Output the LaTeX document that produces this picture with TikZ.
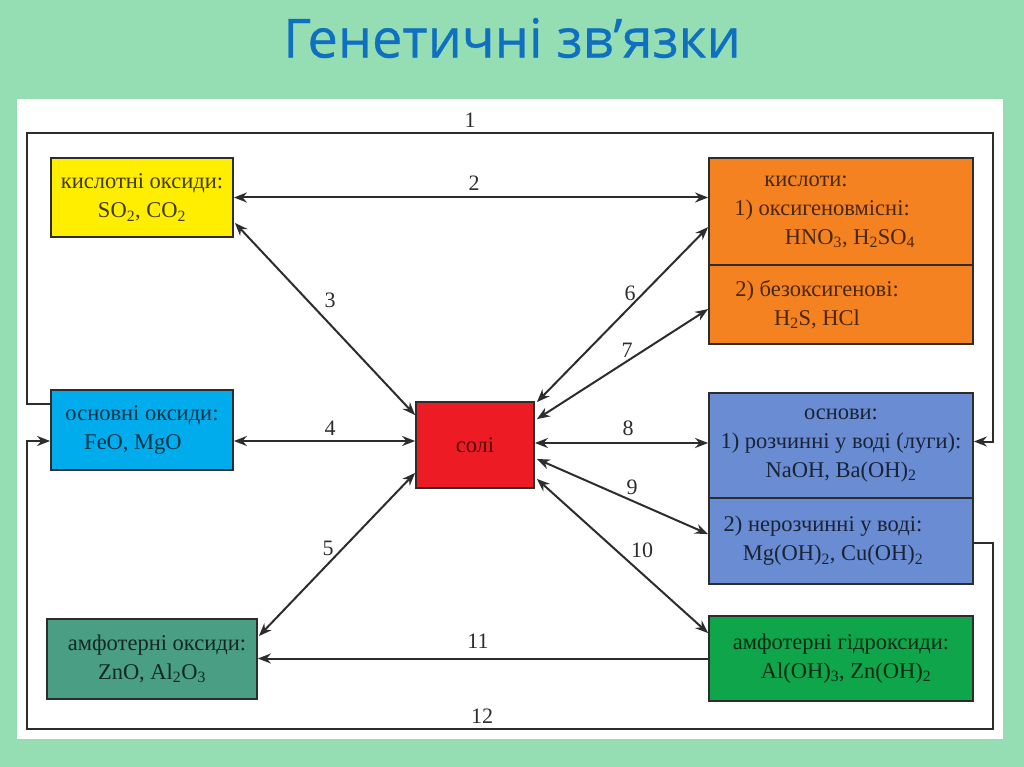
\documentclass[tikz,border=0pt]{standalone}
\usepackage{fontspec}
\setmainfont{Liberation Serif}
\newfontfamily\titlefont[FakeBold=0.6]{Open Sans}
\usetikzlibrary{arrows.meta,calc}
\definecolor{bgmint}{RGB}{149,222,180}
\definecolor{titleblue}{RGB}{16,112,192}
\definecolor{cyell}{RGB}{255,238,0}
\definecolor{corange}{RGB}{245,130,32}
\definecolor{ccyan}{RGB}{0,172,236}
\definecolor{cred}{RGB}{237,28,36}
\definecolor{cbases}{RGB}{105,140,210}
\definecolor{cteal}{RGB}{74,158,132}
\definecolor{cgreen}{RGB}{14,165,75}
\definecolor{linecol}{RGB}{45,45,45}
\begin{document}
\begin{tikzpicture}[x=1pt,y=-1pt,
  box/.style={draw=linecol, line width=1.8pt, inner sep=0pt, align=center,
    font=\fontsize{22.5}{29}\selectfont},
  conn/.style={draw=linecol, line width=2pt},
  tip/.style={conn,-{Stealth[length=13pt,width=10pt]}},
  both/.style={conn,{Stealth[length=13pt,width=10pt]}-{Stealth[length=13pt,width=10pt]}},
  num/.style={font=\fontsize{22}{24}\selectfont, text=linecol, inner sep=1pt}
]
\useasboundingbox (0,0) rectangle (1024,767);
\fill[bgmint] (0,0) rectangle (1024,767);
\fill[white] (17,99) rectangle (1003,739);

\node[font=\titlefont\fontsize{54}{58}\selectfont, text=titleblue] (title) at (512,38) {Генетичні зв’язки};

% boxes
\node[box, fill=cyell, text=cyell!25!black, minimum width=182pt, minimum height=79pt] (ao) at (142,197.5)
  {кислотні оксиди:\\SO\textsubscript{2}, CO\textsubscript{2}};
\node[box, fill=corange, text=corange!30!black, minimum width=264pt, minimum height=107pt] (acA) at (841,211.5)
  {\hspace*{-70pt}кислоти:\\\hspace*{-38pt}1) оксигеновмісні:\\\hspace*{18pt}HNO\textsubscript{3}, H\textsubscript{2}SO\textsubscript{4}};
\node[box, fill=corange, text=corange!30!black, minimum width=264pt, minimum height=79pt] (acB) at (841,304.5)
  {\hspace*{-48pt}2) безоксигенові:\\\hspace*{-48pt}H\textsubscript{2}S, HCl};
\node[box, fill=ccyan, text=ccyan!30!black, minimum width=182pt, minimum height=80pt] (bo) at (142,430)
  {основні оксиди:\\\hspace*{-18pt}FeO, MgO};
\node[box, fill=cred, text=cred!35!black, minimum width=118pt, minimum height=86pt] (salt) at (475,445)
  {солі};
\node[box, fill=cbases, text=cbases!25!black, minimum width=264pt, minimum height=105pt] (bA) at (841,445.5)
  {основи:\\1) розчинні у воді (луги):\\NaOH, Ba(OH)\textsubscript{2}};
\node[box, fill=cbases, text=cbases!25!black, minimum width=264pt, minimum height=86pt] (bB) at (841,541)
  {\hspace*{-36pt}2) нерозчинні у воді:\\\hspace*{-16pt}Mg(OH)\textsubscript{2}, Cu(OH)\textsubscript{2}};
\node[box, fill=cteal, text=cteal!25!black, minimum width=210pt, minimum height=80pt] (aox) at (152,659)
  {\hspace*{10pt}амфотерні оксиди:\\ZnO, Al\textsubscript{2}O\textsubscript{3}};
\node[box, fill=cgreen, text=cgreen!25!black, minimum width=264pt, minimum height=85pt] (ahy) at (841,658.5)
  {амфотерні гідроксиди:\\\hspace*{10pt}Al(OH)\textsubscript{3}, Zn(OH)\textsubscript{2}};

% connector coordinates
\coordinate (c1a) at (27,133);
\coordinate (c1b) at (993,133);
\coordinate (c12a) at (993,729);
\coordinate (c12b) at (27,729);
\coordinate (s1) at ($(bo.north west)+(0,15)$);
\coordinate (e1) at ($(bA.east)+(0,-4)$);
\coordinate (s12) at ($(bB.east)+(0,2)$);
\coordinate (e12) at ($(bo.west)+(0,11)$);
\coordinate (s4) at ($(bo.east)+(0,11)$);
\coordinate (s8) at ($(salt.east)+(0,-2)$);

% connectors
\draw[tip] (s1) -| (c1a) -- (c1b) |- (e1);
\draw[tip] (s12) -| (c12a) -- (c12b) |- (e12);
\draw[both] (ao.east) -- (ao.east -| acA.west);
\draw[both] ($(ao.south east)+(1,-15)$) -- ($(salt.north west)+(0,14)$);
\draw[both] (s4) -- (s4 -| salt.west);
\draw[both] ($(salt.south west)+(0,-16)$) -- ($(aox.north east)+(1,18)$);
\draw[both] ($(salt.north east)+(2,1)$) -- ($(acA.north west)+(0,70)$);
\draw[both] ($(salt.north east)+(2,18)$) -- ($(acB.north west)+(0,45)$);
\draw[both] (s8) -- (s8 -| bA.west);
\draw[both] ($(salt.east)+(2,14)$) -- ($(bB.north west)+(0,37)$);
\draw[both] ($(salt.south east)+(2,-10)$) -- ($(ahy.north west)+(0,18)$);
\draw[tip] (ahy.west) -- (ahy.west -| aox.east);

% labels
\node[num] (n1) at (470,120) {1};
\node[num] (n2) at (474,183) {2};
\node[num] (n3) at (330,300) {3};
\node[num] (n4) at (330,428) {4};
\node[num] (n5) at (328,548) {5};
\node[num] (n6) at (630,293) {6};
\node[num] (n7) at (627,350) {7};
\node[num] (n8) at (628,428) {8};
\node[num] (n9) at (632,487) {9};
\node[num] (n10) at (642,550) {10};
\node[num] (n11) at (478,641) {11};
\node[num] (n12) at (482,716) {12};
\end{tikzpicture}
\end{document}
